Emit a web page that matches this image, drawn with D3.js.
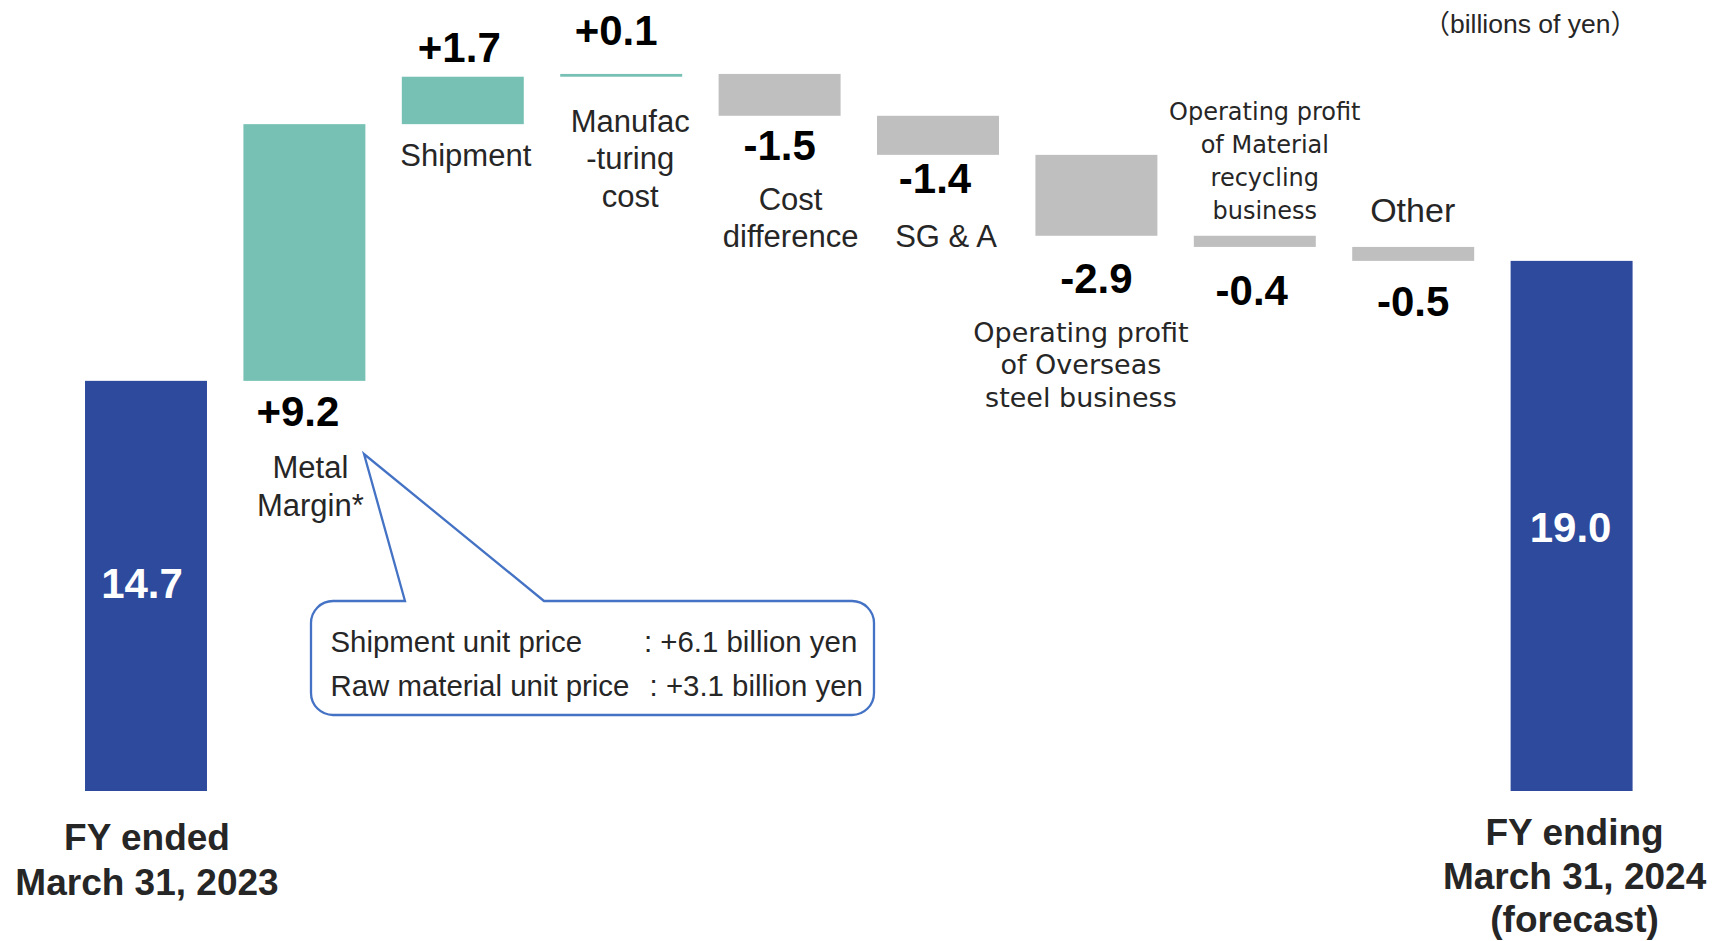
<!DOCTYPE html>
<html>
<head>
<meta charset="utf-8">
<script src="https://cdn.jsdelivr.net/npm/d3@7"></script>
<style>
  html, body { margin: 0; padding: 0; background: #fff; }
  svg { display: block; }
</style>
</head>
<body>
<div id="chart"></div>
<script>
// ---- Data ----------------------------------------------------------------
const categories = [
  "FY ended March 31, 2023",
  "Metal Margin*",
  "Shipment",
  "Manufacturing cost",
  "Cost difference",
  "SG & A",
  "Operating profit of Overseas steel business",
  "Operating profit of Material recycling business",
  "Other",
  "FY ending March 31, 2024 (forecast)"
];
const values = [14.7, 9.2, 1.7, 0.1, -1.5, -1.4, -2.9, -0.4, -0.5, 19.0];
const barKinds = ["total", "delta", "delta", "delta", "delta", "delta", "delta", "delta", "delta", "total"];
const categoryLines = [
  ["FY ended", "March 31, 2023"],
  ["Metal", "Margin*"],
  ["Shipment"],
  ["Manufac", "-turing", "cost"],
  ["Cost", "difference"],
  ["SG & A"],
  ["Operating profit", "of Overseas", "steel business"],
  ["Operating profit", "of Material", "recycling", "business"],
  ["Other"],
  ["FY ending", "March 31, 2024", "(forecast)"]
];
const metalMarginParts = ["Shipment unit price", "Raw material unit price"];
const metalMarginValues = [6.1, 3.1];
const unitLabel = "（billions of yen）";

// ---- Layout ----------------------------------------------------------------
const W = 1717, H = 941;
const COLORS = {
  total: "#2D4A9D",
  up: "#76C1B4",
  down: "#BFBFBF",
  text: "#262626",
  value: "#000000",
  callout: "#4472C4"
};
const ARIAL = "'Liberation Sans', Arial, Helvetica, sans-serif";
const WIDE = "'DejaVu Sans', Verdana, sans-serif";

// value label placement: anchored at the bar's middle, upper or lower edge
const valueLayout = [
  { at: "mid", dx: -4, dy: 12.5 },
  { at: "lower", dx: -6.5, dy: 45 },
  { at: "upper", dx: -3.5, dy: -15 },
  { at: "upper", dx: -5, dy: -29 },
  { at: "lower", dx: 0, dy: 44 },
  { at: "lower", dx: -3, dy: 38 },
  { at: "lower", dx: 0, dy: 57 },
  { at: "lower", dx: -3, dy: 58 },
  { at: "lower", dx: 0, dy: 55.5 },
  { at: "mid", dx: -1, dy: 16 }
];
// category label placement (first baseline relative to an edge of the bar)
const labelLayout = [
  { at: "base", dx: 1, dy: 59, lh: 45, size: 37, weight: 700, family: ARIAL },
  { at: "lower", dx: 6, dy: 97.5, lh: 37.5, size: 31, weight: 400, family: ARIAL },
  { at: "lower", dx: 3, dy: 41.7, lh: 37.5, size: 31, weight: 400, family: ARIAL },
  { at: "lower", dx: 9, dy: 55, lh: 37.5, size: 31, weight: 400, family: ARIAL },
  { at: "lower", dx: 11, dy: 94, lh: 37.5, size: 31, weight: 400, family: ARIAL },
  { at: "lower", dx: 8, dy: 92.5, lh: 37.5, size: 31, weight: 400, family: ARIAL },
  { at: "lower", dx: -15.5, dy: 106, lh: 32.7, size: 27, weight: 400, family: WIDE },
  { at: "upper", dx: 10, dy: -116, lh: 33.1, size: 24, weight: 400, family: WIDE },
  { at: "upper", dx: -0.5, dy: -25, lh: 37.5, size: 34, weight: 400, family: ARIAL },
  { at: "base", dx: 3, dy: 54, lh: 43.5, size: 37, weight: 700, family: ARIAL }
];

const fmtLocale = d3.formatLocale({ decimal: ".", thousands: ",", grouping: [3], currency: ["", ""], minus: "-" });
const fmtTotal = fmtLocale.format(".1f");
const fmtDelta = fmtLocale.format("+.1f");

// ---- Waterfall segments ---------------------------------------------------
let running = 0;
const bars = categories.map((cat, i) => {
  const v = values[i];
  let a, b;
  if (barKinds[i] === "total") { a = 0; b = v; running = v; }
  else { a = running; b = running + v; running = b; }
  return {
    cat, i, value: v, kind: barKinds[i],
    lo: Math.min(a, b), hi: Math.max(a, b),
    fill: barKinds[i] === "total" ? COLORS.total : (v >= 0 ? COLORS.up : COLORS.down)
  };
});

// ---- Scales -----------------------------------------------------------------
const x = d3.scaleBand()
  .domain(categories)
  .range([66.8, 1650.8])
  .paddingInner(0.23)
  .paddingOuter(0.115);
const y = d3.scaleLinear().domain([0, 28.35]).range([791, 0]);

const svg = d3.select("#chart").append("svg")
  .attr("width", W).attr("height", H)
  .attr("viewBox", `0 0 ${W} ${H}`);

svg.append("rect").attr("width", W).attr("height", H).attr("fill", "#fff");

// ---- Bars -----------------------------------------------------------------
svg.append("g").selectAll("rect")
  .data(bars)
  .join("rect")
  .attr("x", d => x(d.cat))
  .attr("width", x.bandwidth())
  .attr("y", d => y(d.hi))
  .attr("height", d => y(d.lo) - y(d.hi))
  .attr("fill", d => d.fill);

const cx = d => x(d.cat) + x.bandwidth() / 2;
const edge = (d, at) => at === "mid" ? (y(d.lo) + y(d.hi)) / 2
  : at === "upper" ? y(d.hi)
  : at === "lower" ? y(d.lo)
  : y(0);

// ---- Value labels -----------------------------------------------------------
svg.append("g").selectAll("text")
  .data(bars)
  .join("text")
  .attr("x", d => cx(d) + valueLayout[d.i].dx)
  .attr("y", d => edge(d, valueLayout[d.i].at) + valueLayout[d.i].dy)
  .attr("text-anchor", "middle")
  .attr("font-family", ARIAL)
  .attr("font-weight", 700)
  .attr("font-size", 42)
  .attr("fill", d => d.kind === "total" ? "#fff" : COLORS.value)
  .text(d => d.kind === "total" ? fmtTotal(d.value) : fmtDelta(d.value));

// ---- Category labels --------------------------------------------------------
const catG = svg.append("g").selectAll("text")
  .data(bars)
  .join("text")
  .attr("text-anchor", "middle")
  .attr("font-family", d => labelLayout[d.i].family)
  .attr("font-weight", d => labelLayout[d.i].weight)
  .attr("font-size", d => labelLayout[d.i].size)
  .attr("fill", COLORS.text);

catG.each(function (d) {
  const L = labelLayout[d.i];
  const x0 = cx(d) + L.dx;
  const y0 = edge(d, L.at) + L.dy;
  d3.select(this).selectAll("tspan")
    .data(categoryLines[d.i])
    .join("tspan")
    .attr("x", x0)
    .attr("y", (t, k) => y0 + k * L.lh)
    .text(t => t);
});

// ---- Unit note -----------------------------------------------------------------
svg.append("text")
  .attr("x", 1637)
  .attr("y", 32.5)
  .attr("text-anchor", "end")
  .attr("font-family", ARIAL + ", 'Noto Sans CJK JP'")
  .attr("font-size", 26.5)
  .attr("fill", COLORS.text)
  .text(unitLabel);

// ---- Callout with the Metal Margin breakdown -----------------------------------
const box = { x0: 311, y0: 601, x1: 874, y1: 715, r: 22 };
const tail = { left: 405, right: 544, tip: [364, 454] };
const p = d3.path();
p.moveTo(box.x0 + box.r, box.y0);
p.lineTo(tail.left, box.y0);
p.lineTo(tail.tip[0], tail.tip[1]);
p.lineTo(tail.right, box.y0);
p.lineTo(box.x1 - box.r, box.y0);
p.arcTo(box.x1, box.y0, box.x1, box.y0 + box.r, box.r);
p.lineTo(box.x1, box.y1 - box.r);
p.arcTo(box.x1, box.y1, box.x1 - box.r, box.y1, box.r);
p.lineTo(box.x0 + box.r, box.y1);
p.arcTo(box.x0, box.y1, box.x0, box.y1 - box.r, box.r);
p.lineTo(box.x0, box.y0 + box.r);
p.arcTo(box.x0, box.y0, box.x0 + box.r, box.y0, box.r);
p.closePath();

svg.append("path")
  .attr("d", p.toString())
  .attr("fill", "#fff")
  .attr("stroke", COLORS.callout)
  .attr("stroke-width", 2.3)
  .attr("stroke-linejoin", "miter");

const calloutRows = metalMarginParts.map((name, k) => ({
  name,
  text: ": " + fmtDelta(metalMarginValues[k]) + " billion yen",
  k
}));
const valueCol = [644, 649.6];
const calloutG = svg.append("g")
  .attr("font-family", ARIAL)
  .attr("font-size", 29.4)
  .attr("fill", COLORS.text);
calloutG.selectAll("text.name")
  .data(calloutRows)
  .join("text")
  .attr("class", "name")
  .attr("x", box.x0 + 19.5)
  .attr("y", d => 651.7 + d.k * 43.8)
  .text(d => d.name);
calloutG.selectAll("text.val")
  .data(calloutRows)
  .join("text")
  .attr("class", "val")
  .attr("x", d => valueCol[d.k])
  .attr("y", d => 651.7 + d.k * 43.8)
  .text(d => d.text);
</script>
</body>
</html>
